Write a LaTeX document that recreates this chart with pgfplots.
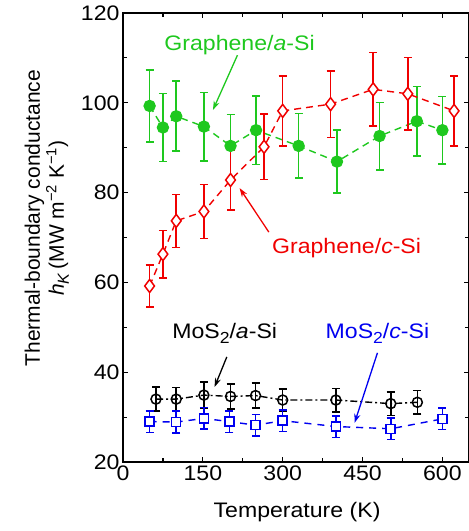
\documentclass[border=0pt]{standalone}
\usepackage{fontspec}
\setmainfont{Liberation Sans}
\usepackage{pgfplots}
\pgfplotsset{compat=1.18}
\usetikzlibrary{arrows.meta,calc}
\definecolor{Gr}{RGB}{30,200,30}
\definecolor{Rd}{RGB}{240,0,0}
\definecolor{Bl}{RGB}{0,0,240}
\newcommand{\fs}{\fontsize{21}{24}\selectfont}
\newcommand{\hs}[1]{\scalebox{1.1}[1]{#1}}
\newcommand{\sub}[1]{\raisebox{-0.45ex}{\fontsize{16}{16}\selectfont #1}}
\tikzset{
  ann/.style={-{Stealth[length=9pt,width=6pt]},line width=1.3pt},
  ebar/.style={solid,line width=1.6pt}
}
\begin{document}
\begin{tikzpicture}
\begin{axis}[name=ax,scale only axis,width=346pt,height=449pt,
  xmin=0,xmax=650,ymin=20,ymax=120,
  xtick={0,150,...,600},minor xtick={75,225,375,525},
  ytick={20,40,...,120},minor ytick={30,50,...,110},
  tick align=inside,major tick length=5pt,minor tick length=4pt,
  every tick/.style={line width=1.2pt,black},
  axis line style={line width=2pt},
  /pgf/number format/assume math mode=true,
  tick label style={font=\fs},
  xticklabel={\hs{\pgfmathprintnumber{\tick}}},
  yticklabel={\hs{\pgfmathprintnumber{\tick}}},
  label style={font=\fs},
  xlabel={\hs{Temperature (K)}},
  ylabel={Thermal-boundary conductance\\\textit{h}\sub{\textit{K}}\,(MW m\textsuperscript{−2} K\textsuperscript{−1})},
  xlabel style={at={(axis description cs:0.503,-0.111)},anchor=center},
  ylabel style={at={(axis description cs:-0.22,0.543)},anchor=center,align=center},
  error bars/error bar style={ebar},
  error bars/error mark options={solid,rotate=90,mark size=4pt,line width=1.6pt},
]
% Graphene/a-Si
\addplot[Gr,line width=1.4pt,dash pattern=on 7pt off 5pt,mark=*,mark size=5.5pt,
  mark options={solid,fill=Gr},
  error bars/.cd,y dir=both,y explicit] coordinates {
  (50,99.3) +- (0,8.0)
  (75,94.5) +- (0,7.6)
  (100,97.0) +- (0,7.8)
  (152,94.7) +- (0,7.6)
  (202,90.4) +- (0,7.0)
  (250,93.9) +- (0,7.6)
  (330,90.4) +- (0,7.2)
  (402,86.9) +- (0,7.0)
  (482,92.6) +- (0,7.5)
  (552,95.9) +- (0,7.7)
  (600,93.9) +- (0,7.5)
};
% Graphene/c-Si
\addplot[Rd,line width=1.4pt,dash pattern=on 7pt off 5pt,mark=diamond*,mark size=6.5pt,
  mark options={solid,fill=white,line width=1.5pt},
  error bars/.cd,y dir=both,y explicit] coordinates {
  (50,59.2) +- (0,4.7)
  (75,66.3) +- (0,5.3)
  (100,73.7) +- (0,5.9)
  (152,75.8) +- (0,6.0)
  (202,82.8) +- (0,6.7)
  (265,90.2) +- (0,7.3)
  (300,98.2) +- (0,7.8)
  (390,99.7) +- (0,7.4)
  (470,103.0) +- (0,8.2)
  (535,102.0) +- (0,8.1)
  (622,98.2) +- (0,7.8)
};
% MoS2/a-Si
\addplot[black,line width=1.4pt,dash pattern=on 7pt off 3pt on 2pt off 3pt,mark=o,mark size=5pt,
  mark options={solid,fill=white,line width=1.5pt},
  error bars/.cd,y dir=both,y explicit] coordinates {
  (62,34.0) +- (0,2.7)
  (100,34.0) +- (0,2.6)
  (152,34.9) +- (0,2.9)
  (202,34.6) +- (0,2.8)
  (249,34.8) +- (0,2.8)
  (300,33.8) +- (0,2.5)
  (400,33.8) +- (0,2.6)
  (503,33.0) +- (0,2.6)
  (553,33.3) +- (0,2.6)
};
% MoS2/c-Si
\addplot[Bl,line width=1.4pt,dash pattern=on 7pt off 6pt,mark=square*,mark size=4.5pt,
  mark options={solid,fill=white,line width=1.5pt},
  error bars/.cd,y dir=both,y explicit] coordinates {
  (50,29.0) +- (0,2.4)
  (100,28.9) +- (0,2.4)
  (152,29.7) +- (0,2.4)
  (200,29.0) +- (0,2.4)
  (249,28.2) +- (0,2.4)
  (300,29.2) +- (0,2.4)
  (400,27.9) +- (0,2.4)
  (503,27.4) +- (0,2.4)
  (600,29.6) +- (0,2.4)
};
\node[Gr,font=\fs] at (axis cs:219,112.9) {\hs{Graphene/\textit{a}-Si}};
\draw[ann,Gr] (axis cs:215,110.6) -- (axis cs:169,98.4);
\node[Rd,font=\fs] at (axis cs:420,67.7) {\hs{Graphene/\textit{c}-Si}};
\draw[ann,Rd] (axis cs:274,71.2) -- (axis cs:219,81.0);
\node[black,font=\fs] at (axis cs:191,48.7) {\hs{MoS\sub{2}/\textit{a}-Si}};
\draw[ann,black] (axis cs:195,43.4) -- (axis cs:172,36.7);
\node[Bl,font=\fs] at (axis cs:478,48.7) {\hs{MoS\sub{2}/\textit{c}-Si}};
\draw[ann,Bl] (axis cs:478,44.3) -- (axis cs:435,28.7);
\end{axis}
\pgfresetboundingbox
\path[use as bounding box] ($(ax.south west)+(-123pt,-69pt)$) rectangle ($(ax.north east)+(0pt,13pt)$);
\end{tikzpicture}
\end{document}
